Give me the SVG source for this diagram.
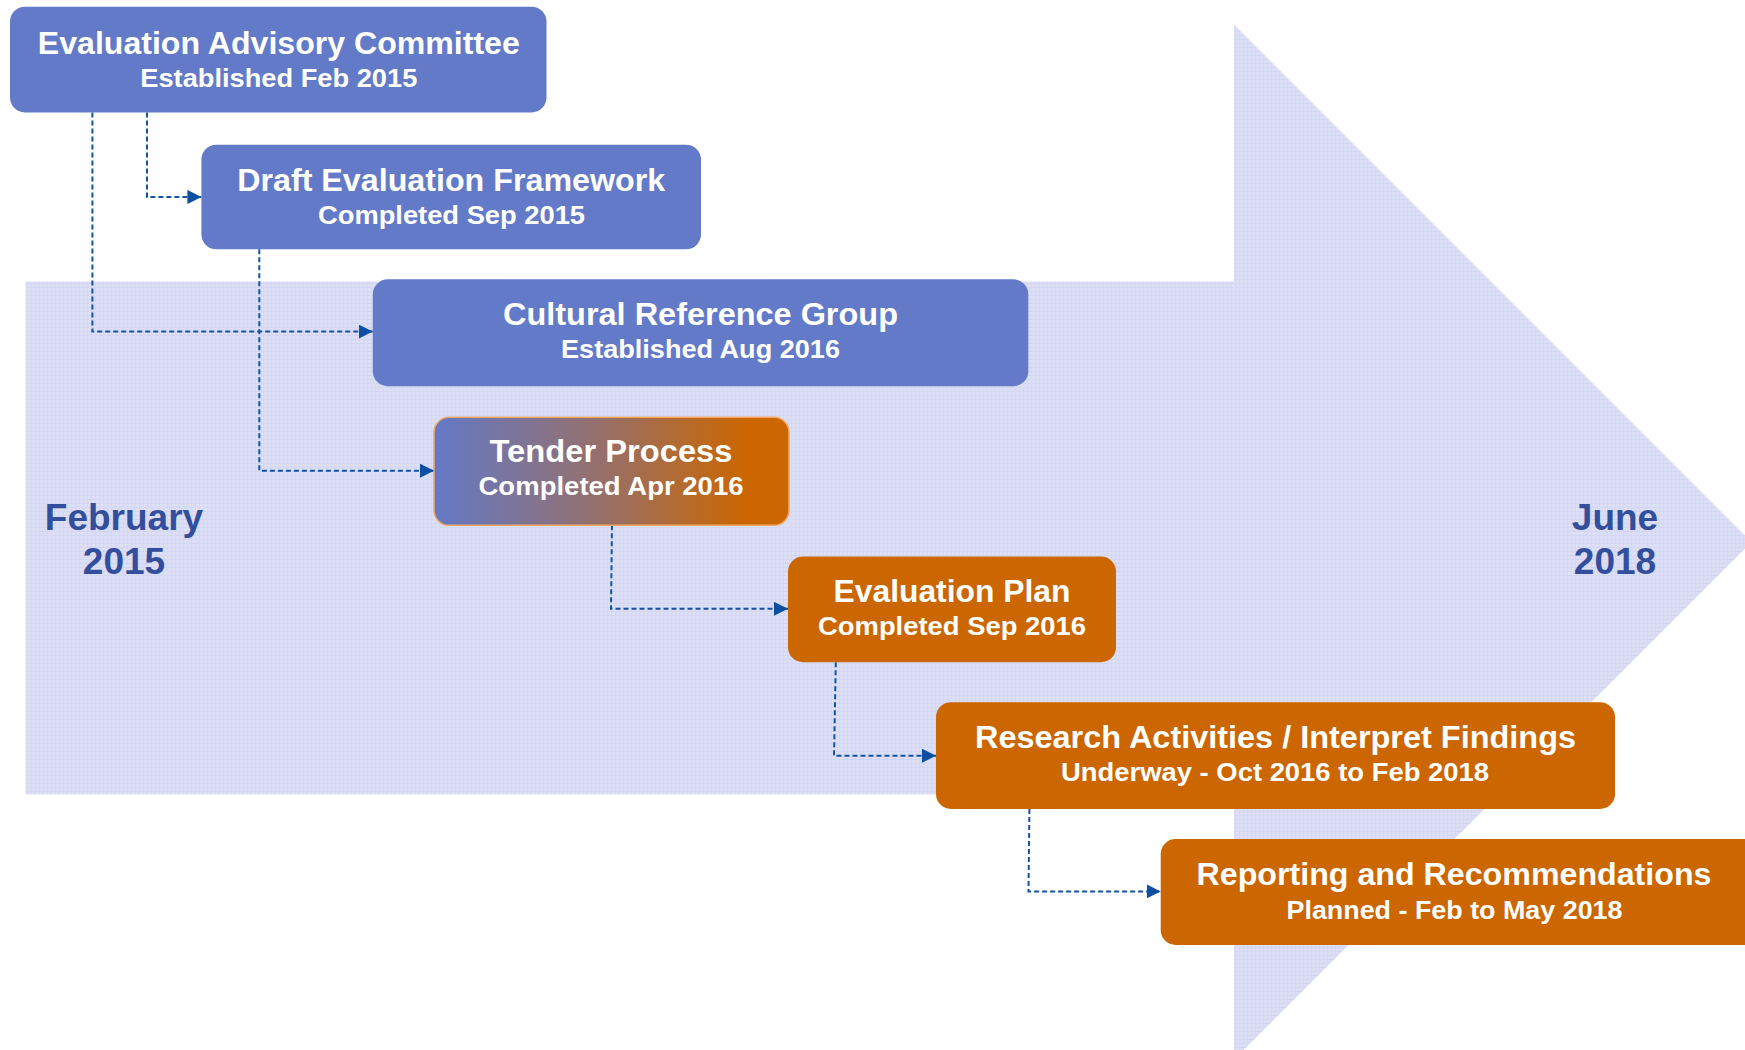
<svg xmlns="http://www.w3.org/2000/svg" width="1745" height="1050" viewBox="0 0 1745 1050">
<defs>
<style>
.bg{fill:url(#grid)}
.blue{fill:#637AC8}
.orange{fill:#CC6600}
.t{font-family:"Liberation Sans",Arial,sans-serif;font-weight:bold;fill:#FFFFFF;text-anchor:middle}
.title{font-size:31px}
.sub{font-size:25px}
.date{font-family:"Liberation Sans",Arial,sans-serif;font-weight:bold;font-size:37px;fill:#324E9C;text-anchor:middle}
.conn{fill:none;stroke:#1453A4;stroke-width:2;stroke-dasharray:5 3}
</style>
<pattern id="grid" width="4" height="4" patternUnits="userSpaceOnUse">
<rect width="4" height="4" fill="#DCDFF5"/>
<rect y="3" width="4" height="1" fill="#D2D6F2"/>
<rect x="3" width="1" height="4" fill="#D6D9F3"/>
</pattern>
<linearGradient id="tender" x1="0" y1="0" x2="1" y2="0">
<stop offset="0" stop-color="#6479C6"/>
<stop offset="0.45" stop-color="#94706F"/>
<stop offset="0.88" stop-color="#CC6600"/>
<stop offset="1" stop-color="#CC6600"/>
</linearGradient>
<marker id="ah" markerUnits="userSpaceOnUse" markerWidth="14" markerHeight="14" refX="14" refY="7" orient="auto">
<path d="M0,0 L14,7 L0,14 Z" fill="#0B4EA2"/>
</marker>
</defs>
<rect width="1745" height="1050" fill="#FFFFFF"/>
<g id="timeline-arrow">
<path class="bg" d="M25.6,281.6 L1234,281.6 L1234,24.5 L1751.5,542 L1234,1059.5 L1234,794.6 L25.6,794.6 Z"/>
</g>
<g id="label-start">
<text class="date" x="124" y="530">February</text>
<text class="date" x="124" y="574">2015</text>
</g>
<g id="label-end">
<text class="date" x="1615" y="530">June</text>
<text class="date" x="1615" y="574">2018</text>
</g>
<g id="connectors">
<path class="conn" d="M92.4,112.4 L92.4,331.6 L372.8,331.6" marker-end="url(#ah)"/>
<path class="conn" d="M147,112.4 L147,197 L201.4,197" marker-end="url(#ah)"/>
<path class="conn" d="M259.3,249.3 L259.3,470.7 L434,470.7" marker-end="url(#ah)"/>
<path class="conn" d="M612,525.3 L611,608.8 L788,608.8" marker-end="url(#ah)"/>
<path class="conn" d="M835.8,662.2 L834,755.7 L936,755.7" marker-end="url(#ah)"/>
<path class="conn" d="M1029.4,809 L1028.5,891.4 L1160.7,891.4" marker-end="url(#ah)"/>
</g>
<g id="node-eac">
<rect class="blue" x="10" y="6.7" width="536.5" height="105.7" rx="15"/>
<text class="t title" x="278.8" y="53.5" textLength="482" lengthAdjust="spacingAndGlyphs">Evaluation Advisory Committee</text>
<text class="t sub" x="278.8" y="86.5" textLength="277" lengthAdjust="spacingAndGlyphs">Established Feb 2015</text>
</g>
<g id="node-def">
<rect class="blue" x="201.4" y="144.7" width="499.6" height="104.6" rx="15"/>
<text class="t title" x="451.2" y="190.5" textLength="428" lengthAdjust="spacingAndGlyphs">Draft Evaluation Framework</text>
<text class="t sub" x="451.5" y="223.5" textLength="267" lengthAdjust="spacingAndGlyphs">Completed Sep 2015</text>
</g>
<g id="node-crg">
<rect class="blue" x="372.8" y="279.3" width="655.5" height="106.9" rx="15"/>
<text class="t title" x="700.5" y="325" textLength="395" lengthAdjust="spacingAndGlyphs">Cultural Reference Group</text>
<text class="t sub" x="700.5" y="358" textLength="279" lengthAdjust="spacingAndGlyphs">Established Aug 2016</text>
</g>
<g id="node-tender">
<rect x="434" y="417.3" width="355" height="108" rx="15" fill="url(#tender)" stroke="#F2A766" stroke-width="1.5"/>
<text class="t title" x="611" y="461.5" textLength="243" lengthAdjust="spacingAndGlyphs">Tender Process</text>
<text class="t sub" x="611" y="495" textLength="265" lengthAdjust="spacingAndGlyphs">Completed Apr 2016</text>
</g>
<g id="node-plan">
<rect class="orange" x="788" y="556.5" width="328" height="105.7" rx="15"/>
<text class="t title" x="952" y="601.5" textLength="237" lengthAdjust="spacingAndGlyphs">Evaluation Plan</text>
<text class="t sub" x="952" y="635" textLength="268" lengthAdjust="spacingAndGlyphs">Completed Sep 2016</text>
</g>
<g id="node-research">
<rect class="orange" x="936" y="702.2" width="679" height="106.8" rx="15"/>
<text class="t title" x="1275.5" y="748" textLength="601" lengthAdjust="spacingAndGlyphs">Research Activities / Interpret Findings</text>
<text class="t sub" x="1275" y="781" textLength="428" lengthAdjust="spacingAndGlyphs">Underway - Oct 2016 to Feb 2018</text>
</g>
<g id="node-reporting">
<rect class="orange" x="1160.7" y="839" width="600" height="106" rx="15"/>
<text class="t title" x="1454" y="885" textLength="515" lengthAdjust="spacingAndGlyphs">Reporting and Recommendations</text>
<text class="t sub" x="1454.5" y="918.5" textLength="336" lengthAdjust="spacingAndGlyphs">Planned - Feb to May 2018</text>
</g>
</svg>
